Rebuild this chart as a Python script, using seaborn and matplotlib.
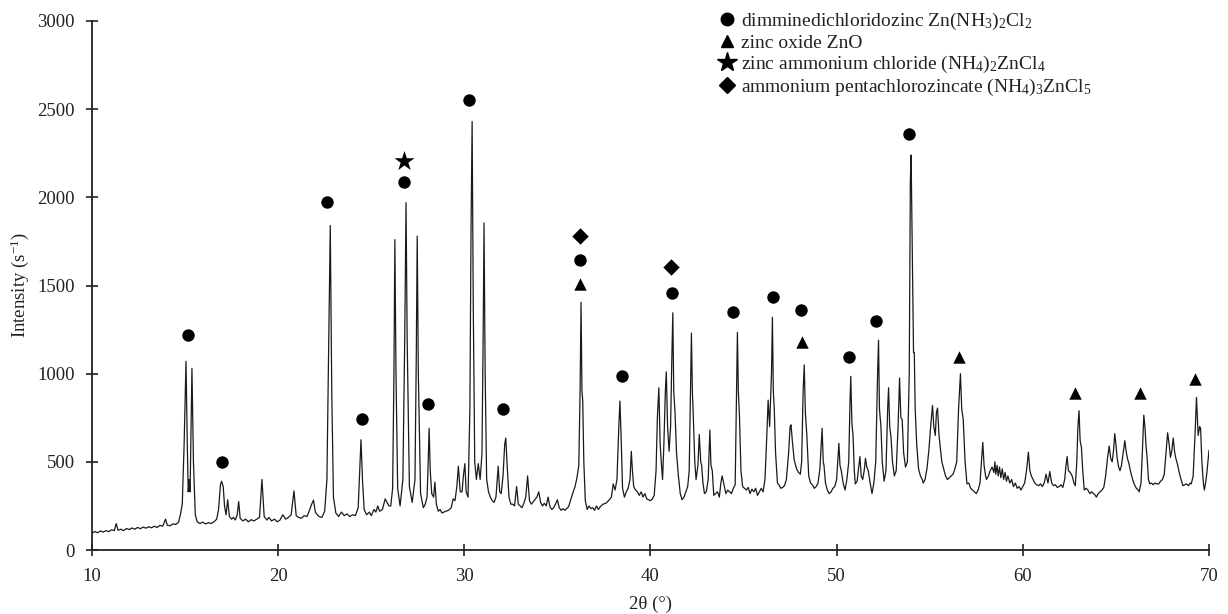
import matplotlib
matplotlib.use("Agg")
import matplotlib.pyplot as plt
from matplotlib.lines import Line2D
import seaborn as sns
import pandas as pd

# ---- data ----
two_theta = [
    10.0, 10.15, 10.3, 10.45, 10.6, 10.75, 10.9, 11.05, 11.2, 11.3, 11.4, 11.55, 11.7, 11.85, 12.0, 12.15,
    12.3, 12.45, 12.6, 12.75, 12.9, 13.05, 13.2, 13.35, 13.5, 13.65, 13.8, 13.95, 14.05, 14.2, 14.35, 14.5,
    14.65, 14.75, 14.85, 14.95, 15.05, 15.12, 15.17, 15.22, 15.27, 15.37, 15.45, 15.55, 15.65, 15.8, 15.95,
    16.1, 16.25, 16.4, 16.55, 16.7, 16.8, 16.9, 16.96, 17.05, 17.12, 17.2, 17.29, 17.38, 17.5, 17.6, 17.7,
    17.8, 17.88, 17.96, 18.1, 18.25, 18.4, 18.55, 18.7, 18.85, 19.0, 19.13, 19.25, 19.4, 19.5, 19.65, 19.8,
    19.95, 20.1, 20.25, 20.4, 20.55, 20.7, 20.85, 20.97, 21.1, 21.25, 21.4, 21.55, 21.7, 21.8, 21.9, 22.0,
    22.1, 22.2, 22.35, 22.5, 22.62, 22.72, 22.8, 22.88, 22.97, 23.1, 23.25, 23.4, 23.55, 23.7, 23.85, 24.0,
    24.15, 24.3, 24.38, 24.45, 24.53, 24.62, 24.75, 24.9, 25.0, 25.15, 25.25, 25.35, 25.45, 25.6, 25.75,
    25.85, 25.95, 26.05, 26.15, 26.22, 26.27, 26.33, 26.42, 26.55, 26.7, 26.8, 26.87, 26.93, 27.05, 27.2,
    27.35, 27.42, 27.47, 27.53, 27.65, 27.8, 27.9, 28.0, 28.06, 28.11, 28.17, 28.25, 28.35, 28.42, 28.5,
    28.6, 28.7, 28.8, 28.9, 29.0, 29.15, 29.3, 29.4, 29.5, 29.6, 29.68, 29.78, 29.88, 29.95, 30.03, 30.1,
    30.2, 30.3, 30.36, 30.42, 30.48, 30.56, 30.65, 30.75, 30.85, 30.95, 31.02, 31.06, 31.12, 31.2, 31.3,
    31.4, 31.5, 31.6, 31.7, 31.82, 31.9, 31.98, 32.08, 32.17, 32.23, 32.3, 32.4, 32.5, 32.6, 32.7, 32.81,
    32.9, 33.0, 33.1, 33.2, 33.3, 33.4, 33.5, 33.6, 33.75, 33.9, 34.0, 34.1, 34.2, 34.3, 34.4, 34.5, 34.6,
    34.7, 34.8, 34.9, 35.0, 35.1, 35.2, 35.3, 35.4, 35.5, 35.6, 35.7, 35.85, 35.95, 36.05, 36.15, 36.22,
    36.27, 36.32, 36.36, 36.42, 36.5, 36.6, 36.7, 36.8, 36.9, 37.0, 37.1, 37.2, 37.3, 37.45, 37.6, 37.75,
    37.9, 38.0, 38.1, 38.2, 38.3, 38.36, 38.42, 38.5, 38.6, 38.7, 38.8, 38.9, 38.97, 39.03, 39.1, 39.2,
    39.3, 39.4, 39.5, 39.6, 39.7, 39.8, 39.9, 40.0, 40.1, 40.2, 40.3, 40.37, 40.45, 40.52, 40.58, 40.65,
    40.72, 40.8, 40.85, 40.92, 41.0, 41.08, 41.15, 41.2, 41.25, 41.32, 41.4, 41.5, 41.6, 41.7, 41.8, 41.9,
    42.0, 42.08, 42.15, 42.2, 42.25, 42.3, 42.38, 42.45, 42.55, 42.62, 42.7, 42.75, 42.82, 42.9, 43.0, 43.1,
    43.19, 43.25, 43.32, 43.4, 43.5, 43.6, 43.7, 43.78, 43.85, 43.95, 44.05, 44.15, 44.25, 44.35, 44.45,
    44.55, 44.62, 44.67, 44.72, 44.78, 44.86, 44.95, 45.05, 45.15, 45.25, 45.35, 45.45, 45.55, 45.65, 45.75,
    45.85, 45.95, 46.05, 46.15, 46.25, 46.32, 46.4, 46.5, 46.55, 46.6, 46.65, 46.72, 46.82, 46.9, 47.0,
    47.1, 47.2, 47.3, 47.42, 47.5, 47.55, 47.62, 47.72, 47.85, 47.95, 48.05, 48.12, 48.2, 48.26, 48.32,
    48.4, 48.5, 48.6, 48.7, 48.8, 48.9, 49.0, 49.1, 49.17, 49.22, 49.28, 49.32, 49.4, 49.5, 49.6, 49.7,
    49.8, 49.9, 50.0, 50.07, 50.12, 50.18, 50.25, 50.35, 50.45, 50.55, 50.65, 50.72, 50.76, 50.82, 50.88,
    50.95, 51.0, 51.1, 51.2, 51.25, 51.32, 51.4, 51.48, 51.55, 51.62, 51.7, 51.8, 51.9, 52.0, 52.1, 52.2,
    52.25, 52.3, 52.38, 52.45, 52.55, 52.65, 52.74, 52.79, 52.85, 52.92, 53.0, 53.1, 53.2, 53.3, 53.38,
    53.45, 53.52, 53.6, 53.7, 53.8, 53.9, 53.96, 54.0, 54.05, 54.1, 54.13, 54.17, 54.22, 54.3, 54.4, 54.5,
    54.6, 54.65, 54.75, 54.85, 54.95, 55.05, 55.15, 55.22, 55.3, 55.36, 55.42, 55.5, 55.55, 55.65, 55.75,
    55.85, 55.95, 56.05, 56.15, 56.25, 56.35, 56.45, 56.55, 56.65, 56.72, 56.8, 56.9, 57.0, 57.1, 57.2,
    57.3, 57.4, 57.5, 57.6, 57.7, 57.78, 57.85, 57.92, 58.0, 58.05, 58.15, 58.25, 58.35, 58.45, 58.5,
    58.55, 58.62, 58.68, 58.75, 58.82, 58.9, 58.97, 59.05, 59.12, 59.2, 59.3, 59.4, 59.5, 59.6, 59.7, 59.8,
    59.9, 60.0, 60.1, 60.2, 60.3, 60.38, 60.46, 60.55, 60.65, 60.75, 60.85, 60.95, 61.05, 61.15, 61.25,
    61.35, 61.45, 61.55, 61.65, 61.75, 61.85, 61.95, 62.05, 62.15, 62.25, 62.32, 62.38, 62.45, 62.55,
    62.65, 62.75, 62.82, 62.9, 62.96, 63.02, 63.08, 63.15, 63.22, 63.3, 63.4, 63.5, 63.6, 63.7, 63.8, 63.9,
    63.95, 64.05, 64.15, 64.25, 64.35, 64.45, 64.55, 64.64, 64.72, 64.8, 64.87, 64.94, 65.0, 65.07, 65.15,
    65.22, 65.3, 65.4, 65.48, 65.55, 65.62, 65.7, 65.8, 65.9, 66.0, 66.1, 66.2, 66.25, 66.35, 66.42, 66.5,
    66.56, 66.62, 66.68, 66.75, 66.82, 66.92, 67.0, 67.1, 67.2, 67.3, 67.4, 67.5, 67.6, 67.7, 67.78, 67.86,
    67.93, 68.0, 68.08, 68.15, 68.22, 68.3, 68.4, 68.5, 68.6, 68.7, 68.8, 68.9, 69.0, 69.05, 69.15, 69.25,
    69.33, 69.42, 69.5, 69.55, 69.62, 69.7, 69.75, 69.82, 69.9, 70.0,
]
intensity = [
    95, 105, 98, 108, 102, 110, 104, 115, 110, 150, 112, 118, 110, 122, 116, 125,
    118, 128, 121, 130, 124, 132, 126, 135, 128, 140, 135, 175, 140, 138, 148, 145,
    158, 200, 260, 600, 1070, 600, 330, 400, 330, 1030, 500, 200, 160, 150, 158,
    148, 155, 150, 160, 175, 230, 370, 390, 360, 250, 200, 285, 190, 175, 185, 170,
    200, 275, 180, 165, 175, 160, 172, 165, 175, 185, 400, 190, 170, 185, 165, 175,
    160, 170, 200, 175, 185, 200, 335, 195, 185, 180, 195, 190, 230, 260, 283, 215,
    200, 190, 185, 220, 400, 1200, 1840, 900, 300, 210, 190, 215, 195, 205, 190, 200,
    195, 240, 450, 625, 400, 230, 200, 215, 195, 230, 215, 250, 220, 230, 290,
    270, 250, 250, 350, 1000, 1760, 1000, 350, 250, 400, 1200, 1970, 1200, 360, 270,
    400, 1100, 1780, 1000, 320, 240, 260, 300, 500, 690, 450, 320, 300, 385, 260,
    220, 230, 210, 215, 220, 225, 240, 290, 280, 360, 475, 330, 330, 420, 490, 330,
    300, 800, 1800, 2430, 1400, 500, 400, 490, 400, 550, 1300, 1855, 1000, 400, 330,
    300, 280, 270, 300, 475, 330, 320, 420, 600, 635, 480, 300, 260, 260, 250, 360,
    260, 250, 240, 265, 300, 420, 280, 260, 280, 300, 330, 270, 250, 265, 250, 300, 245,
    230, 240, 260, 285, 240, 225, 235, 225, 235, 245, 280, 330, 360, 410, 480, 900,
    1405, 900, 850, 500, 280, 230, 250, 235, 240, 225, 250, 230, 245, 260, 265, 280,
    300, 375, 340, 400, 700, 845, 650, 350, 300, 330, 350, 400, 560, 450, 360, 340,
    330, 310, 330, 300, 320, 290, 285, 280, 290, 310, 450, 750, 920, 600, 500, 400,
    600, 900, 1010, 700, 560, 700, 1100, 1345, 900, 780, 550, 420, 320, 285, 300, 330,
    360, 450, 900, 1230, 900, 760, 500, 400, 480, 655, 500, 480, 380, 320, 330, 400,
    680, 480, 450, 310, 320, 330, 300, 380, 420, 370, 320, 340, 330, 320, 350,
    370, 900, 1235, 900, 760, 450, 360, 350, 340, 355, 320, 345, 330, 350, 310,
    330, 350, 330, 400, 650, 850, 700, 1000, 1320, 900, 800, 550, 380, 370, 350,
    355, 365, 400, 550, 700, 710, 620, 510, 460, 440, 430, 500, 900, 1050, 780,
    650, 420, 380, 370, 350, 360, 380, 460, 600, 690, 500, 480, 380, 340, 320, 330,
    350, 360, 400, 520, 605, 480, 450, 380, 340, 400, 500, 850, 985, 720, 650,
    450, 375, 390, 480, 530, 420, 400, 450, 520, 470, 450, 380, 320, 380, 500, 1000,
    1190, 800, 700, 500, 390, 450, 800, 920, 700, 640, 500, 420, 450, 700, 975,
    750, 740, 550, 470, 500, 1000, 2100, 2240, 1800, 1400, 1120, 1120, 800, 600, 460, 420,
    400, 380, 400, 460, 560, 700, 820, 700, 650, 780, 805, 650, 600, 500, 460,
    420, 400, 410, 420, 430, 460, 500, 800, 1000, 800, 740, 500, 375, 380, 350,
    340, 330, 320, 340, 380, 500, 610, 480, 420, 400, 420, 450, 470, 440, 500,
    430, 480, 420, 470, 410, 460, 400, 440, 390, 420, 380, 400, 360, 380, 350, 360,
    340, 360, 380, 450, 555, 450, 420, 400, 380, 370, 365, 375, 360, 380, 430,
    380, 445, 380, 365, 370, 355, 360, 370, 355, 400, 480, 530, 450, 440,
    420, 380, 365, 500, 700, 790, 620, 580, 450, 340, 350, 340, 320, 330, 320, 310,
    300, 320, 330, 340, 355, 420, 520, 590, 520, 500, 560, 660, 600, 520, 470,
    450, 480, 560, 620, 560, 520, 490, 440, 400, 370, 350, 340, 330, 380, 550, 765,
    700, 590, 520, 400, 375, 380, 370, 380, 375, 375, 390, 400, 430, 560, 665, 600,
    525, 560, 635, 560, 520, 490, 440, 400, 365, 370, 375, 365, 380, 375, 420, 650,
    865, 650, 700, 690, 500, 380, 340, 380, 450, 565,
]

circle_x = [15.17, 16.96, 22.64, 24.48, 26.77, 28.06, 30.25, 32.09, 36.24, 38.45, 41.13, 44.44, 46.59, 48.11, 50.67, 52.10, 53.88]
circle_y = [1218, 497, 1975, 745, 2085, 830, 2553, 798, 1647, 985, 1460, 1349, 1435, 1360, 1097, 1298, 2361]
triangle_x = [36.24, 48.13, 56.57, 62.83, 66.32, 69.24]
triangle_y = [1507, 1180, 1095, 888, 888, 969]
star_x = [26.77]
star_y = [2205]
diamond_x = [36.24, 41.10]
diamond_y = [1780, 1605]

legend_labels = [
    r"dimminedichloridozinc Zn(NH$\mathregular{_3}$)$\mathregular{_2}$Cl$\mathregular{_2}$",
    "zinc oxide ZnO",
    r"zinc ammonium chloride (NH$\mathregular{_4}$)$\mathregular{_2}$ZnCl$\mathregular{_4}$",
    r"ammonium pentachlorozincate (NH$\mathregular{_4}$)$\mathregular{_3}$ZnCl$\mathregular{_5}$",
]
x_ticks = [10, 20, 30, 40, 50, 60, 70]
y_ticks = [0, 500, 1000, 1500, 2000, 2500, 3000]

# ---- styling ----
sns.set_style("ticks")
plt.rcParams["font.family"] = ["Liberation Serif", "DejaVu Serif"]
plt.rcParams["mathtext.fontset"] = "custom"
plt.rcParams["mathtext.rm"] = "Liberation Serif"

fig = plt.figure(figsize=(12.28, 6.14), dpi=100)
ax = fig.add_axes([0.0749, 0.1042, 0.9096, 0.8616])

df = pd.DataFrame({"two_theta": two_theta, "intensity": intensity})
sns.lineplot(data=df, x="two_theta", y="intensity", sort=False, estimator=None,
             color="#1a1a1a", linewidth=0.9, ax=ax)

sns.scatterplot(x=circle_x, y=circle_y, marker="o", s=80, color="black", linewidth=0, ax=ax, zorder=5)
sns.scatterplot(x=triangle_x, y=triangle_y, marker="^", s=80, color="black", linewidth=0, ax=ax, zorder=5)
sns.scatterplot(x=star_x, y=star_y, marker="*", s=230, color="black", linewidth=0, ax=ax, zorder=5)
sns.scatterplot(x=diamond_x, y=diamond_y, marker="D", s=70, color="black", linewidth=0, ax=ax, zorder=5)

ax.set_xlim(10, 70)
ax.set_ylim(0, 3000)
ax.set_xticks(x_ticks)
ax.set_yticks(y_ticks)
ax.tick_params(axis="both", direction="inout", length=9, width=1.2, colors="#222222",
               labelsize=13.5, labelcolor="#222222")
ax.tick_params(axis="x", pad=8.2)
ax.tick_params(axis="y", pad=8)
for side in ["top", "right"]:
    ax.spines[side].set_visible(False)
for side in ["left", "bottom"]:
    ax.spines[side].set_linewidth(1.3)
    ax.spines[side].set_color("#222222")

ax.set_xlabel("2θ (°)", fontsize=13.5, color="#222222", labelpad=7.6)
ax.set_ylabel(r"Intensity (s$\mathregular{^{-1}}$)", fontsize=13.5, color="#222222", labelpad=4.4)

handles = [
    Line2D([], [], ls="", marker="o", color="black", markersize=9),
    Line2D([], [], ls="", marker="^", color="black", markersize=9),
    Line2D([], [], ls="", marker="*", color="black", markersize=15),
    Line2D([], [], ls="", marker="D", color="black", markersize=8),
]
leg = fig.legend(handles, legend_labels, loc="upper left", bbox_to_anchor=(0.585, 0.982),
                 frameon=False, fontsize=14, handlelength=0.9, handletextpad=0.25,
                 labelspacing=0.1, borderpad=0, borderaxespad=0)
for t in leg.get_texts():
    t.set_color("#222222")

fig.savefig("out.png", dpi=100)
